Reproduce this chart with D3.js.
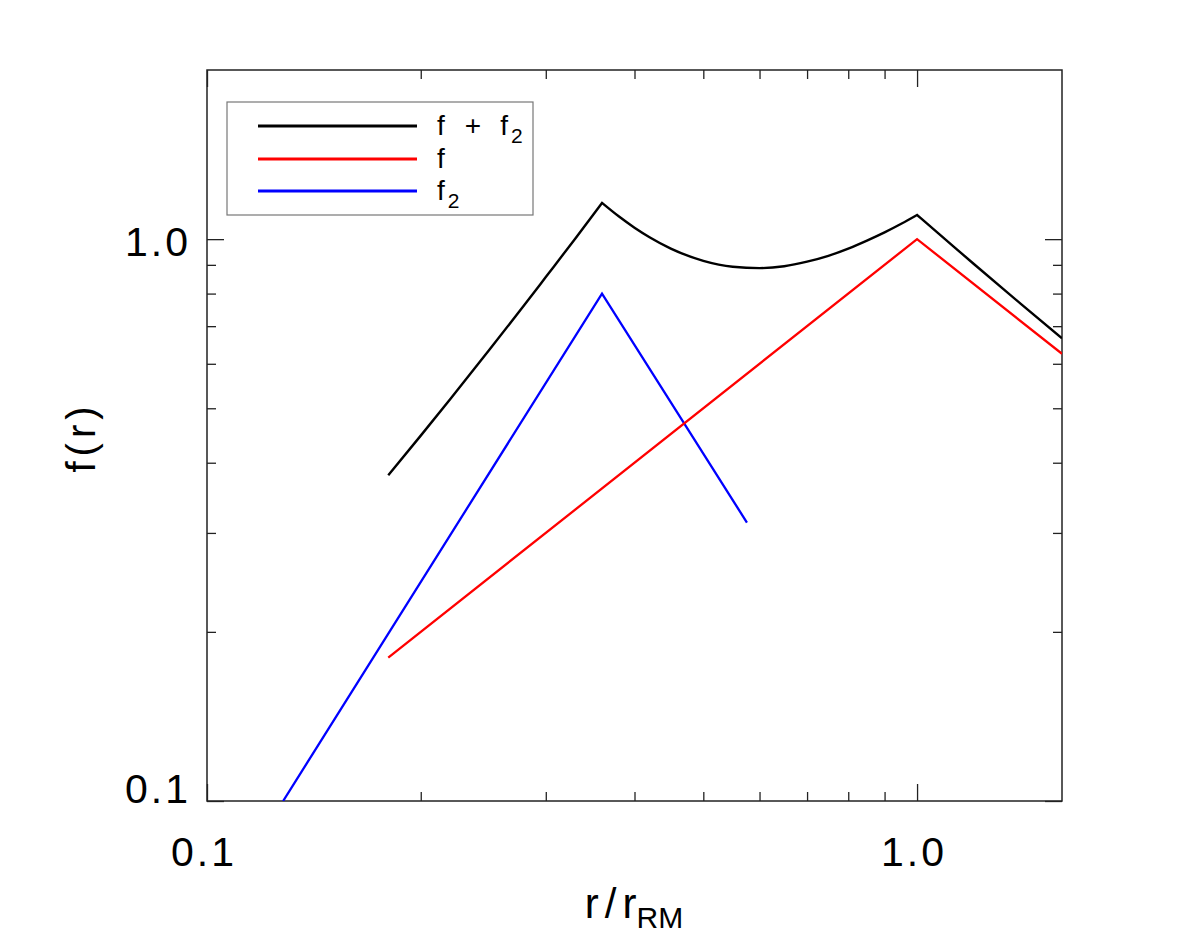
<!DOCTYPE html>
<html><head><meta charset="utf-8">
<script src="https://cdn.jsdelivr.net/npm/d3@7"></script>
<style>body{margin:0;background:#fff}svg{display:block}text{font-family:"Liberation Sans",Arial,sans-serif;fill:#000}</style>
</head><body><svg id="c" width="1180" height="944"></svg>
<script>
// data
const rTotal = [0.18,0.2,0.22,0.25,0.28,0.3,0.33,0.36,0.38,0.4,0.42,0.45,0.5,0.55,0.6,0.65,0.7,0.75,0.8,0.85,0.9,0.95,1.0,1.1,1.2,1.4,1.6];
const fTotal = [0.38,0.447,0.519,0.636,0.764,0.856,1.002,1.16,1.098,1.048,1.008,0.962,0.915,0.893,0.888,0.895,0.912,0.934,0.962,0.994,1.028,1.065,1.104,0.995,0.905,0.767,0.666];
const rF = [0.18,1.0,1.6];
const fF = [0.18,1.0,0.625];
const rF2 = [0.128,0.36,0.576];
const fF2 = [0.1,0.8,0.313];
const cornersTotal = [0.36,1.0];
const xMajor = [0.1,1.0];
const xMinor = [0.2,0.3,0.4,0.5,0.6,0.7,0.8,0.9];
const yMajor = [0.1,1.0];
const yMinor = [0.2,0.3,0.4,0.5,0.6,0.7,0.8,0.9];
const majorLabels = ["0.1","1.0"];

const L=207,R=1062,T=70,B=801;
const svg=d3.select("#c");
const x=d3.scaleLog().domain([0.1,1.6]).range([L,R]);
const y=d3.scaleLog().domain([0.1,2.0]).range([B,T]);

svg.append("defs").append("clipPath").attr("id","clip").append("rect")
  .attr("x",L).attr("y",T).attr("width",R-L).attr("height",B-T);

const g=svg.append("g");
const axisColor="#222";
g.append("rect").attr("x",L).attr("y",T).attr("width",R-L).attr("height",B-T)
 .attr("fill","none").attr("stroke",axisColor).attr("stroke-width",1.5);

function addAxis(axisFn, scale, vals, size, transform){
  const a=axisFn(scale).tickValues(vals).tickSize(size).tickFormat("");
  const gg=g.append("g").attr("transform",transform).call(a);
  gg.select(".domain").remove();
  gg.selectAll(".tick line").attr("stroke",axisColor).attr("stroke-width",1.3);
}
addAxis(d3.axisTop,x,xMajor,17,`translate(0,${B})`);
addAxis(d3.axisTop,x,xMinor,9,`translate(0,${B})`);
addAxis(d3.axisBottom,x,xMajor,17,`translate(0,${T})`);
addAxis(d3.axisBottom,x,xMinor,9,`translate(0,${T})`);
addAxis(d3.axisRight,y,yMajor,17,`translate(${L},0)`);
addAxis(d3.axisRight,y,yMinor,9,`translate(${L},0)`);
addAxis(d3.axisLeft,y,yMajor,17,`translate(${R},0)`);
addAxis(d3.axisLeft,y,yMinor,9,`translate(${R},0)`);

xMajor.forEach((v,i)=>{
  g.append("text").attr("x",x(v)-3).attr("y",866).attr("text-anchor","middle")
   .attr("font-size",41).attr("letter-spacing",3).text(majorLabels[i]);
});
yMajor.forEach((v,i)=>{
  const yy = i===0 ? B+2 : y(v)+17;
  g.append("text").attr("x",191).attr("y",yy).attr("text-anchor","end")
   .attr("font-size",41).attr("letter-spacing",3).text(majorLabels[i]);
});

const xt=g.append("text").attr("x",634).attr("y",918).attr("text-anchor","middle").attr("font-size",42);
xt.append("tspan").text("r");
xt.append("tspan").attr("dx",6).text("/");
xt.append("tspan").attr("dx",6).text("r");
xt.append("tspan").attr("font-size",30).attr("dy",10).text("RM");

g.append("text").attr("transform","translate(95,437) rotate(-90)").attr("text-anchor","middle")
 .attr("font-size",40).attr("letter-spacing",5).text("f(r)");

const line=d3.line().x(d=>x(d[0])).y(d=>y(d[1]));
const smooth=d3.line().x(d=>x(d[0])).y(d=>y(d[1])).curve(d3.curveMonotoneX);
const plot=g.append("g").attr("clip-path","url(#clip)");
plot.append("path").datum(d3.zip(rF2,fF2)).attr("d",line).attr("fill","none").attr("stroke","#0000ff").attr("stroke-width",2.3);
plot.append("path").datum(d3.zip(rF,fF)).attr("d",line).attr("fill","none").attr("stroke","#ff0000").attr("stroke-width",2.3);
// black curve: smooth pieces between its corners
const tot=d3.zip(rTotal,fTotal);
const bounds=[rTotal[0],...cornersTotal,rTotal[rTotal.length-1]];
let dStr="";
for(let i=0;i<bounds.length-1;i++){
  const seg=tot.filter(p=>p[0]>=bounds[i]&&p[0]<=bounds[i+1]);
  let s=smooth(seg);
  if(i>0) s="L"+s.slice(1);
  dStr+=s;
}
plot.append("path").attr("d",dStr).attr("fill","none").attr("stroke","#000").attr("stroke-width",2.4).attr("stroke-linejoin","miter");

const lg=g.append("g");
lg.append("rect").attr("x",227).attr("y",102).attr("width",306).attr("height",113)
  .attr("fill","#fff").attr("stroke","#777").attr("stroke-width",1.2);
const legItems=[{c:"#000",y:126},{c:"#ff0000",y:159},{c:"#0000ff",y:191}];
legItems.forEach(d=>{
  lg.append("line").attr("x1",258).attr("x2",417).attr("y1",d.y).attr("y2",d.y)
    .attr("stroke",d.c).attr("stroke-width",3.2);
});
const t1=lg.append("text").attr("x",437).attr("y",135).attr("font-size",28);
t1.append("tspan").text("f");
t1.append("tspan").attr("dx",20).text("+");
t1.append("tspan").attr("dx",19).text("f");
t1.append("tspan").attr("font-size",21).attr("dx",3).attr("dy",8).text("2");
lg.append("text").attr("x",437).attr("y",168).attr("font-size",28).text("f");
const t3=lg.append("text").attr("x",437).attr("y",200).attr("font-size",28);
t3.append("tspan").text("f");
t3.append("tspan").attr("font-size",21).attr("dx",3).attr("dy",8).text("2");
</script></body></html>
